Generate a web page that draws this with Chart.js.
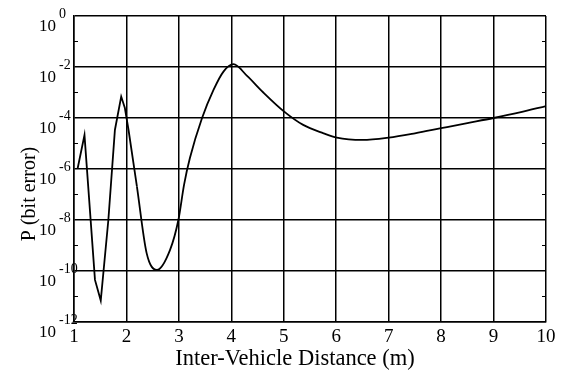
<!DOCTYPE html>
<html>
<head>
<meta charset="utf-8">
<script src="https://cdn.jsdelivr.net/npm/chart.js@4"></script>
<style>
html,body{margin:0;padding:0;background:#fff;}
#wrap{width:565px;height:371px;}
</style>
</head>
<body>
<div id="wrap"><canvas id="c" width="565" height="371"></canvas></div>
<script>
// Oscillating near-field part (sharp turns): distance (m) and P (bit error)
const distanceNear = [1.07,1.2,1.40,1.51,1.655,1.78,1.9,1.97,2.04,2.2];
const bitErrorNear = [1.07e-6,2.14e-5,4.47e-11,6.92e-12,1.0e-8,3.39e-5,6.92e-4,2.45e-4,3.39e-5,2.04e-7];
// Smooth far part: distance (m) and P (bit error)
const distanceFar = [2.2,2.385,2.58,2.83,2.99,3.1,3.21,3.44,3.66,3.85,4.04,4.3,4.61,4.99,5.37,5.76,6.01,6.5,7,7.5,8,8.5,9,9.5,10];
const bitErrorFar = [2.04e-7,5.01e-10,1.10e-10,6.61e-10,1.0e-8,2.51e-7,2.69e-6,9.77e-5,1.26e-3,6.61e-3,1.29e-2,4.47e-3,1.0e-3,1.91e-4,5.37e-5,2.51e-5,1.70e-5,1.38e-5,1.70e-5,2.51e-5,3.98e-5,6.31e-5,1.0e-4,1.66e-4,2.95e-4];
// y tick exponents (labelled), and all decades
const yLabelExponents = [0,-2,-4,-6,-8,-10,-12];
const yDecades = [0,-1,-2,-3,-4,-5,-6,-7,-8,-9,-10,-11,-12];
const xTicks = [1,2,3,4,5,6,7,8,9,10];
const xTitle = 'Inter-Vehicle Distance (m)';
const yTitle = 'P (bit error)';

const SERIF = '"Liberation Serif", "Times New Roman", serif';

const labelPlugin = {
  id: 'labels',
  afterDraw(chart) {
    const ctx = chart.ctx;
    const ys = chart.scales.y;
    const ca = chart.chartArea;
    ctx.save();
    ctx.fillStyle = '#000';
    ctx.strokeStyle = '#000';
    // minor ticks at odd decades
    ctx.lineWidth = 1.2;
    yDecades.forEach(e => {
      if (e % 2 !== 0) {
        const py = ys.getPixelForValue(Math.pow(10, e));
        ctx.beginPath();
        ctx.moveTo(ca.left, py); ctx.lineTo(ca.left + 4, py);
        ctx.moveTo(ca.right - 4, py); ctx.lineTo(ca.right, py);
        ctx.stroke();
      }
    });
    // y tick labels 10^e
    yLabelExponents.forEach(e => {
      const py = ys.getPixelForValue(Math.pow(10, e));
      ctx.font = '17px ' + SERIF;
      ctx.textAlign = 'right';
      ctx.textBaseline = 'alphabetic';
      ctx.fillText('10', 56, py + 15);
      ctx.font = '14px ' + SERIF;
      ctx.textAlign = 'left';
      ctx.fillText(e === 0 ? '0' : '-' + Math.abs(e), 59, py + 2);
    });
    // x title
    ctx.font = '22.5px ' + SERIF;
    ctx.textAlign = 'center';
    ctx.textBaseline = 'alphabetic';
    ctx.fillText(xTitle, 295, 365);
    // y title
    ctx.translate(35, 194);
    ctx.rotate(-Math.PI / 2);
    ctx.font = '20px ' + SERIF;
    ctx.textAlign = 'center';
    ctx.fillText(yTitle, 0, 0);
    ctx.restore();
  }
};

const lineStyle = { borderColor: '#000', borderWidth: 1.8, pointRadius: 0, fill: false };

new Chart(document.getElementById('c'), {
  type: 'line',
  data: {
    datasets: [
      Object.assign({ data: distanceNear.map((x, i) => ({x: x, y: bitErrorNear[i]})), tension: 0 }, lineStyle),
      Object.assign({ data: distanceFar.map((x, i) => ({x: x, y: bitErrorFar[i]})), cubicInterpolationMode: 'monotone' }, lineStyle)
    ]
  },
  options: {
    responsive: false,
    animation: false,
    devicePixelRatio: 1,
    layout: { padding: { left: 0, top: 16, right: 19, bottom: 0 } },
    plugins: { legend: { display: false }, tooltip: { enabled: false } },
    scales: {
      x: {
        type: 'linear',
        min: 1, max: 10,
        afterBuildTicks: s => { s.ticks = xTicks.map(v => ({value: v})); },
        afterFit: s => { s.height = 49; },
        grid: { color: '#000', lineWidth: 1.5, drawTicks: false },
        border: { color: '#000', width: 1.5 },
        ticks: {
          color: '#000', padding: 4,
          font: { family: SERIF, size: 19 },
          maxRotation: 0, autoSkip: false,
          callback: v => String(v)
        }
      },
      y: {
        type: 'logarithmic',
        min: 1e-12, max: 1,
        afterBuildTicks: s => { s.ticks = yDecades.map(e => ({value: Math.pow(10, e)})); },
        afterFit: s => { s.width = 74; },
        grid: {
          drawTicks: false,
          lineWidth: 1.5,
          color: c => {
            const e = Math.round(Math.log10(c.tick.value));
            return (e % 2 === 0) ? '#000' : 'rgba(0,0,0,0)';
          }
        },
        border: { color: '#000', width: 1.5 },
        ticks: { display: false }
      }
    }
  },
  plugins: [labelPlugin]
});
</script>
</body>
</html>
